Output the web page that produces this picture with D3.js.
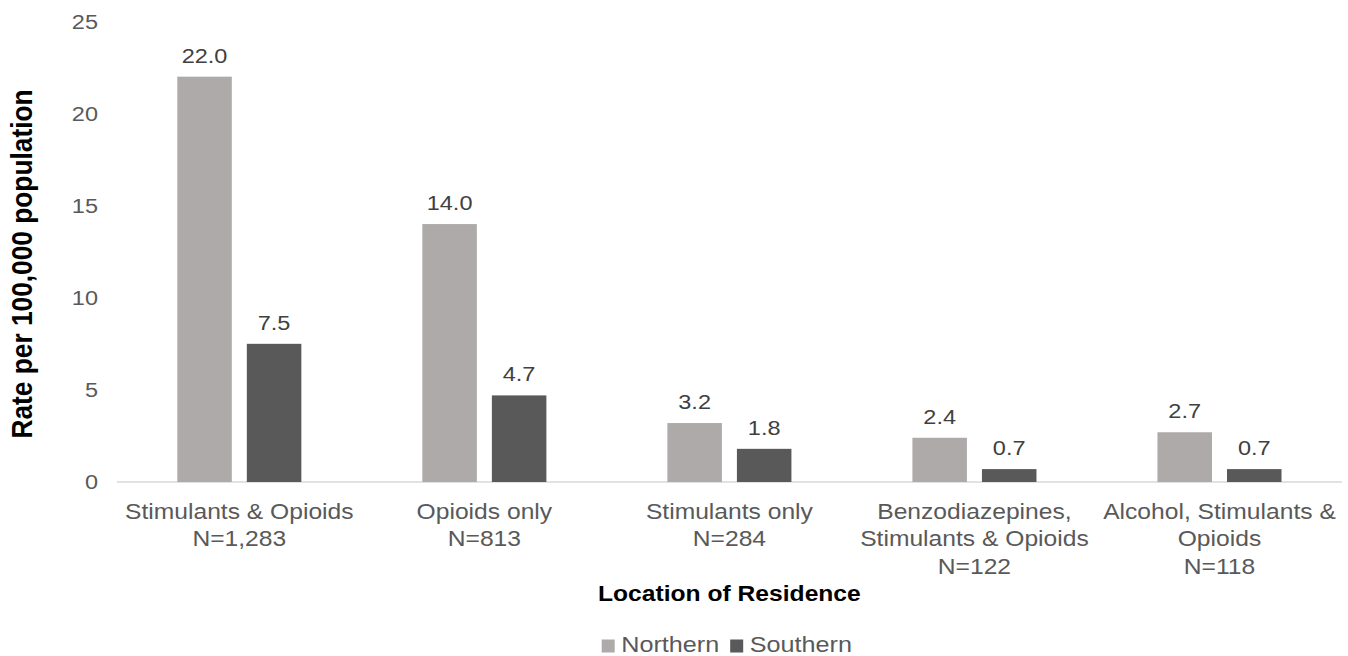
<!DOCTYPE html>
<html>
<head>
<meta charset="utf-8">
<script src="https://cdn.jsdelivr.net/npm/d3@7"></script>
<style>
html, body { margin: 0; padding: 0; background: #fff; }
svg { display: block; }
text { font-family: "Liberation Sans", Arial, sans-serif; }
</style>
</head>
<body>
<svg id="chart"></svg>
<script>
// ---- data ----
const categories = [
  "Stimulants & Opioids\nN=1,283",
  "Opioids only\nN=813",
  "Stimulants only\nN=284",
  "Benzodiazepines,\nStimulants & Opioids\nN=122",
  "Alcohol, Stimulants &\nOpioids\nN=118"
];
const seriesNames = ["Northern", "Southern"];
const northern = [22.0, 14.0, 3.2, 2.4, 2.7];
const southern = [7.5, 4.7, 1.8, 0.7, 0.7];
const yTicks = [0, 5, 10, 15, 20, 25];
const yTitle = "Rate per 100,000 population";
const xTitle = "Location of Residence";

// ---- layout ----
const W = 1348, H = 656;
const SX = 1.12;               // horizontal stretch of the reference
const VW = W / SX;
const colors = { Northern: "#AEAAAA", Southern: "#595959" };

const svg = d3.select("#chart")
  .attr("width", W).attr("height", H)
  .attr("viewBox", `0 0 ${VW} ${H}`)
  .attr("preserveAspectRatio", "none");

const x0 = d3.scaleBand().domain(categories)
  .range([116.8 / SX, 1342 / SX]).paddingInner(0).paddingOuter(0);
const x1 = d3.scaleBand().domain(seriesNames)
  .range([0, x0.bandwidth()]).paddingInner(0.216).paddingOuter(0.87);
const y = d3.scaleLinear().domain([0, 25]).range([482, 21.4]);

// baseline
svg.append("line")
  .attr("x1", x0.range()[0]).attr("x2", x0.range()[1])
  .attr("y1", y(0)).attr("y2", y(0))
  .attr("stroke", "#D9D9D9").attr("stroke-width", 1.3);

// y tick labels
svg.append("g").selectAll("text").data(yTicks).join("text")
  .attr("x", 98 / SX).attr("y", d => y(d) + 7.5)
  .attr("text-anchor", "end")
  .attr("font-size", 21).attr("fill", "#595959")
  .text(d => d);

// bars
const rows = categories.map((c, i) => ({ cat: c, vals: [
  { s: "Northern", v: northern[i] }, { s: "Southern", v: southern[i] }] }));

const groups = svg.append("g").selectAll("g").data(rows).join("g")
  .attr("transform", d => `translate(${x0(d.cat)},0)`);

groups.selectAll("rect").data(d => d.vals).join("rect")
  .attr("x", d => x1(d.s)).attr("width", x1.bandwidth())
  .attr("y", d => y(d.v)).attr("height", d => y(0) - y(d.v))
  .attr("fill", d => colors[d.s]);

groups.selectAll("text.val").data(d => d.vals).join("text")
  .attr("class", "val")
  .attr("x", d => x1(d.s) + x1.bandwidth() / 2)
  .attr("y", d => y(d.v) - 14)
  .attr("text-anchor", "middle")
  .attr("font-size", 21).attr("fill", "#404040")
  .text(d => d.v.toFixed(1));

// category labels
const cl = svg.append("g").selectAll("text").data(categories).join("text")
  .attr("x", d => x0(d) + x0.bandwidth() / 2)
  .attr("y", 519)
  .attr("text-anchor", "middle")
  .attr("font-size", 22).attr("fill", "#595959");
cl.selectAll("tspan").data(d => d.split("\n")).join("tspan")
  .attr("x", function() { return d3.select(this.parentNode).attr("x"); })
  .attr("dy", (d, i) => i === 0 ? 0 : 27.3)
  .text(d => d);

// x title
svg.append("text")
  .attr("x", (x0.range()[0] + x0.range()[1]) / 2).attr("y", 601)
  .attr("text-anchor", "middle")
  .attr("font-size", 22).attr("font-weight", "bold").attr("fill", "#000")
  .text(xTitle);

// y title
svg.append("text")
  .attr("transform", `translate(${32.3 / SX},264) rotate(-90)`)
  .attr("text-anchor", "middle")
  .attr("font-size", 26.3).attr("font-weight", "bold").attr("fill", "#000")
  .text(yTitle);

// legend
const leg = svg.append("g");
let lx = 601.7 / SX;
seriesNames.forEach(s => {
  leg.append("rect").attr("x", lx).attr("y", 639.5)
    .attr("width", 13 / SX).attr("height", 13).attr("fill", colors[s]);
  const t = leg.append("text").attr("x", lx + 19.5 / SX).attr("y", 652.3)
    .attr("font-size", 22.5).attr("fill", "#595959").text(s);
  lx += (19.5 / SX) + t.node().getComputedTextLength() + 11 / SX;
});
</script>
</body>
</html>
